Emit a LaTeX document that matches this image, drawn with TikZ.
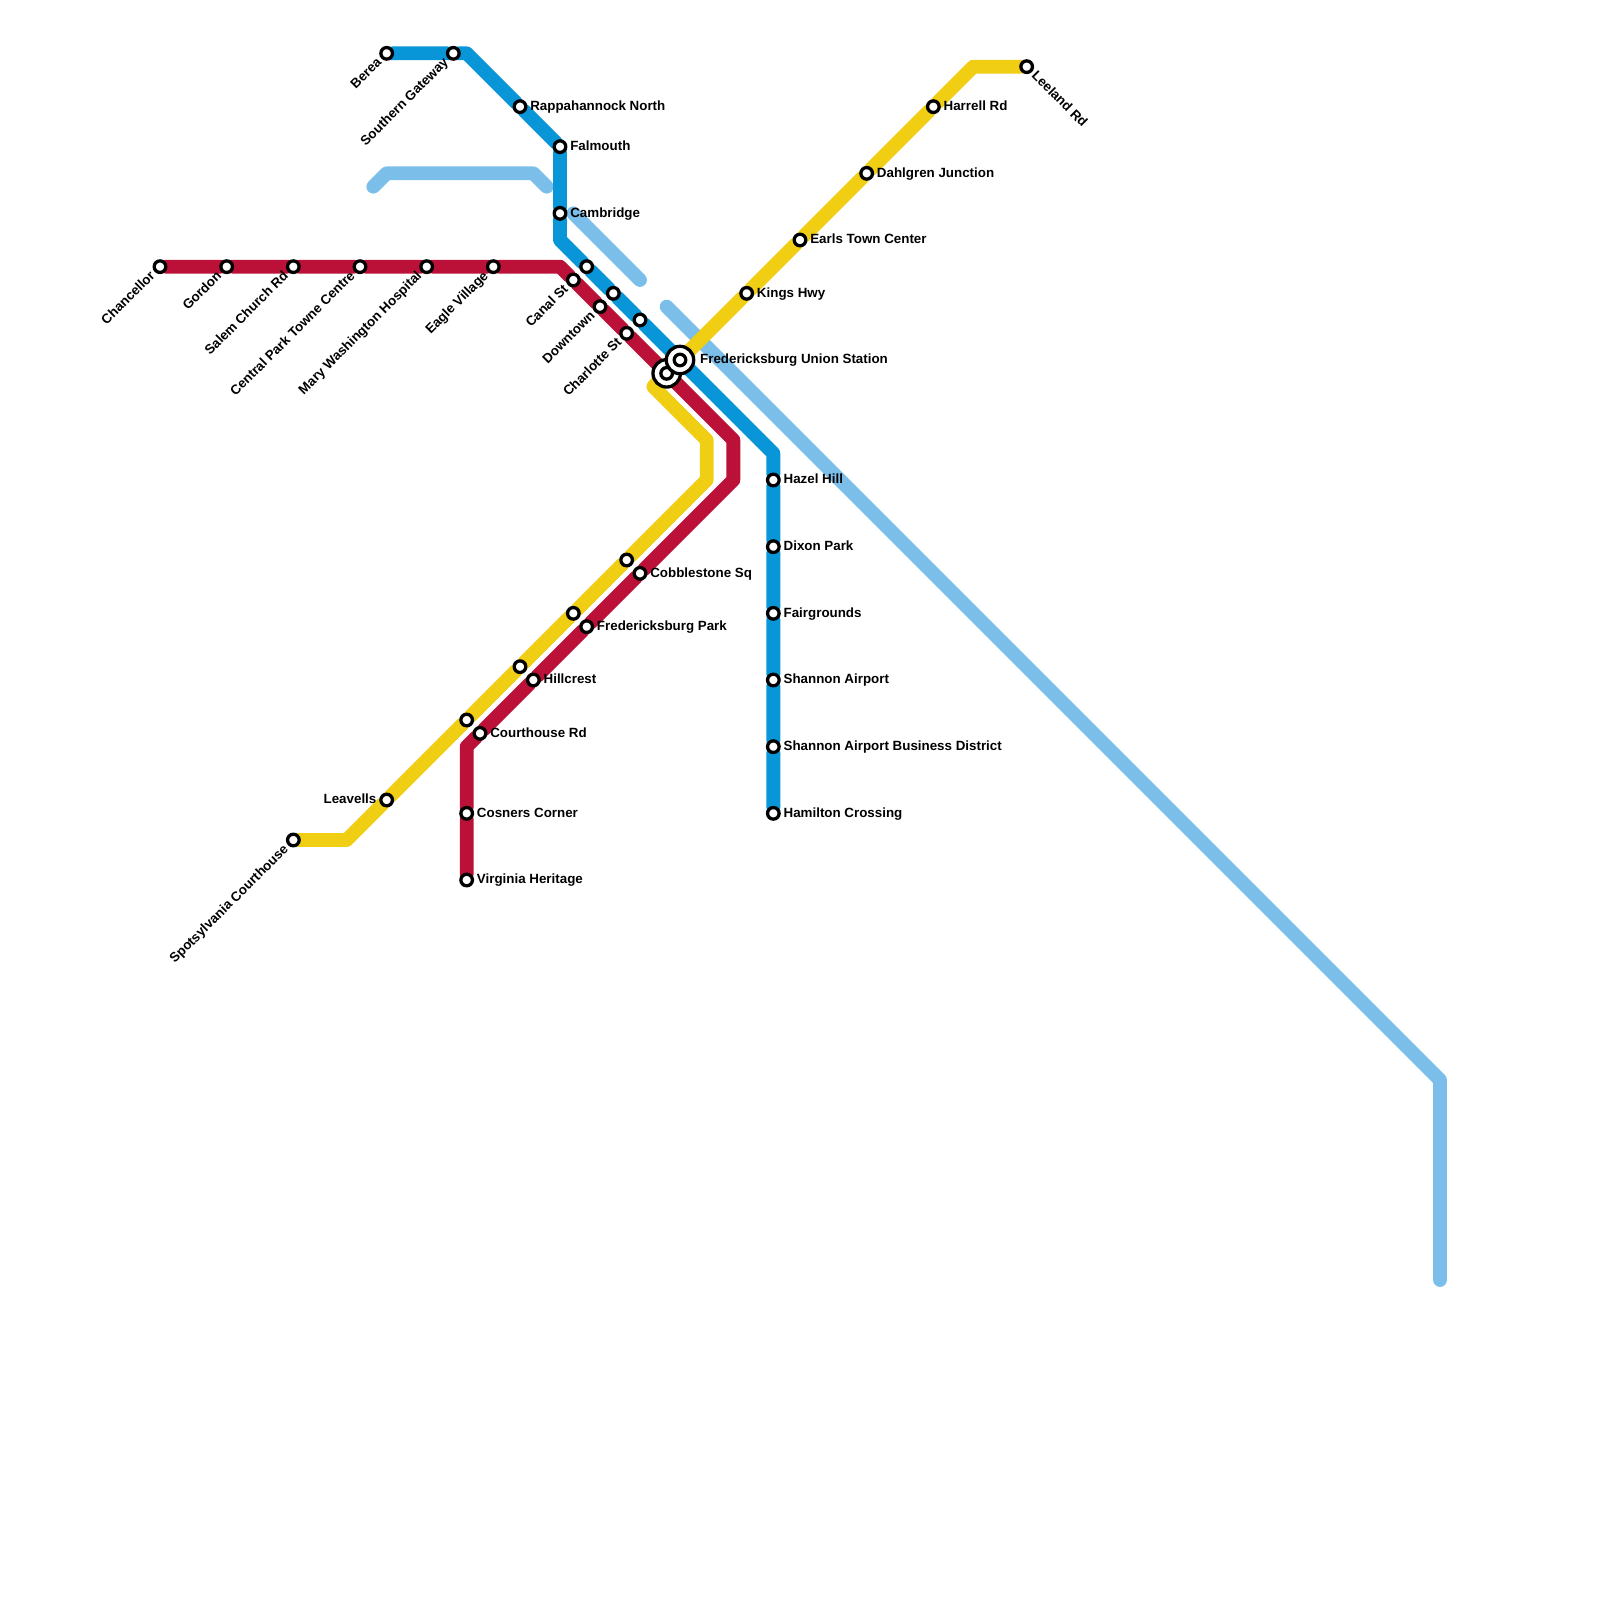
\documentclass[tikz,border=0pt]{standalone}
\usepackage{fontspec}
\setmainfont{Liberation Sans}
\usetikzlibrary{backgrounds}
\definecolor{crimson}{RGB}{187,16,56}
\definecolor{ocean}{RGB}{9,150,216}
\definecolor{sky}{RGB}{123,190,233}
\definecolor{amber}{RGB}{240,206,20}
\tikzset{
  route/.style={line width=11.8pt, line cap=round, line join=round},
  stop/.style={circle, draw=black, fill=white, line width=2.8pt, inner sep=0pt, outer sep=0pt, minimum size=9.9pt},
  ring/.style={circle, draw=black, fill=white, line width=2.8pt, inner sep=0pt, outer sep=0pt, minimum size=23.4pt},
  tag/.style={font=\bfseries\fontsize{11.4pt}{13pt}\selectfont, inner ysep=0pt, text height=8.4pt, text depth=1.6pt},
  tagE/.style={tag, anchor=west, inner xsep=8.6pt},
  tagW/.style={tag, anchor=east, inner xsep=8.6pt},
  tagSW/.style={tag, anchor=east, inner xsep=8.6pt, rotate=45},
  tagSE/.style={tag, anchor=west, inner xsep=8.6pt, rotate=-45},
}
\begin{document}
\begin{tikzpicture}[x=0.4cm, y=-0.4cm]
\useasboundingbox (0,0) rectangle (120,120);
% Plano de lineas: primero las paradas, debajo los trazos
\coordinate (skyA) at (28,14);
\coordinate (skyB) at (29,13);
\coordinate (skyC) at (40,13);
\coordinate (skyD) at (41,14);
\coordinate (skyE) at (43,16);
\coordinate (skyF) at (48,21);
\coordinate (skyG) at (50,23);
\coordinate (skyH) at (108,81);
\coordinate (skyI) at (108,96);
\coordinate (redA) at (42,20);
\coordinate (redB) at (55,33);
\coordinate (redC) at (55,36);
\coordinate (redD) at (35,56);
\coordinate (blueA) at (35,4);
\coordinate (blueB) at (42,18);
\coordinate (blueC) at (58,34);
\coordinate (yelA) at (73,5);
\coordinate (yelB) at (49,29);
\coordinate (yelC) at (53,33);
\coordinate (yelD) at (53,36);
\coordinate (yelE) at (26,63);

\node[ring] (transferring) at (50,28) {};
\node[stop] (transfer) at (50,28) {};
\node[ring] (unionring) at (51,27) {};
\node[stop] (union) at (51,27) {};

\node[stop] (chancellor) at (12,20) {};
\node[stop] (gordon) at (17,20) {};
\node[stop] (salem) at (22,20) {};
\node[stop] (central) at (27,20) {};
\node[stop] (mary) at (32,20) {};
\node[stop] (eagle) at (37,20) {};
\node[stop] (canal) at (43,21) {};
\node[stop] (downtown) at (45,23) {};
\node[stop] (charlotte) at (47,25) {};
\node[stop] (cobble) at (48,43) {};
\node[stop] (frepark) at (44,47) {};
\node[stop] (hillcrest) at (40,51) {};
\node[stop] (courthouse) at (36,55) {};
\node[stop] (cosners) at (35,61) {};
\node[stop] (virginia) at (35,66) {};

\node[stop] (berea) at (29,4) {};
\node[stop] (southern) at (34,4) {};
\node[stop] (rappa) at (39,8) {};
\node[stop] (falmouth) at (42,11) {};
\node[stop] (cambridge) at (42,16) {};
\node[stop] (canalB) at (44,20) {};
\node[stop] (downtownB) at (46,22) {};
\node[stop] (charlotteB) at (48,24) {};
\node[stop] (hazel) at (58,36) {};
\node[stop] (dixon) at (58,41) {};
\node[stop] (fairgrounds) at (58,46) {};
\node[stop] (shannon) at (58,51) {};
\node[stop] (business) at (58,56) {};
\node[stop] (hamilton) at (58,61) {};

\node[stop] (leeland) at (77,5) {};
\node[stop] (harrell) at (70,8) {};
\node[stop] (dahlgren) at (65,13) {};
\node[stop] (earls) at (60,18) {};
\node[stop] (kings) at (56,22) {};
\node[stop] (cobbleY) at (47,42) {};
\node[stop] (freparkY) at (43,46) {};
\node[stop] (hillcrestY) at (39,50) {};
\node[stop] (courthouseY) at (35,54) {};
\node[stop] (leavells) at (29,60) {};
\node[stop] (spotsy) at (22,63) {};

\begin{scope}[on background layer]
\draw[route, sky] (skyA) -- (skyB) -- (skyC) -- (skyD);
\draw[route, sky] (skyE) -- (skyF);
\draw[route, sky] (skyG) -- (skyH) -- (skyI);
\draw[route, crimson] (chancellor) -- (gordon) -- (salem) -- (central) -- (mary) -- (eagle) -- (redA) -- (canal) -- (downtown) -- (charlotte) -- (transfer) -- (redB) -- (redC) -- (cobble) -- (frepark) -- (hillcrest) -- (courthouse) -- (redD) -- (cosners) -- (virginia);
\draw[route, ocean] (berea) -- (southern) -- (blueA) -- (rappa) -- (falmouth) -- (cambridge) -- (blueB) -- (canalB) -- (downtownB) -- (charlotteB) -- (union) -- (blueC) -- (hazel) -- (dixon) -- (fairgrounds) -- (shannon) -- (business) -- (hamilton);
\draw[route, amber] (leeland) -- (yelA) -- (harrell) -- (dahlgren) -- (earls) -- (kings) -- (union) -- (yelB) -- (yelC) -- (yelD) -- (cobbleY) -- (freparkY) -- (hillcrestY) -- (courthouseY) -- (leavells) -- (yelE) -- (spotsy);
\end{scope}

\node[tagSW] (chancellortag) at (chancellor) {Chancellor};
\node[tagSW] (gordontag) at (gordon) {Gordon};
\node[tagSW] (salemtag) at (salem) {Salem Church Rd};
\node[tagSW] (centraltag) at (central) {Central Park Towne Centre};
\node[tagSW] (marytag) at (mary) {Mary Washington Hospital};
\node[tagSW] (eagletag) at (eagle) {Eagle Village};
\node[tagSW] (canaltag) at (canal) {Canal St};
\node[tagSW] (downtowntag) at (downtown) {Downtown};
\node[tagSW] (charlottetag) at (charlotte) {Charlotte St};
\node[tagSW] (bereatag) at (berea) {Berea};
\node[tagSW] (southerntag) at (southern) {Southern Gateway};
\node[tagSW] (spotsytag) at (spotsy) {Spotsylvania Courthouse};
\node[tagW] (leavellstag) at (leavells) {Leavells};
\node[tagSE] (leelandtag) at (leeland) {Leeland Rd};

\node[tagE] (cobbletag) at (cobble) {Cobblestone Sq};
\node[tagE] (freparktag) at (frepark) {Fredericksburg Park};
\node[tagE] (hillcresttag) at (hillcrest) {Hillcrest};
\node[tagE] (courthousetag) at (courthouse) {Courthouse Rd};
\node[tagE] (cosnerstag) at (cosners) {Cosners Corner};
\node[tagE] (virginiatag) at (virginia) {Virginia Heritage};
\node[tagE] (rappatag) at (rappa) {Rappahannock North};
\node[tagE] (falmouthtag) at (falmouth) {Falmouth};
\node[tagE] (cambridgetag) at (cambridge) {Cambridge};
\node[tagE] (hazeltag) at (hazel) {Hazel Hill};
\node[tagE] (dixontag) at (dixon) {Dixon Park};
\node[tagE] (fairgroundstag) at (fairgrounds) {Fairgrounds};
\node[tagE] (shannontag) at (shannon) {Shannon Airport};
\node[tagE] (businesstag) at (business) {Shannon Airport Business District};
\node[tagE] (hamiltontag) at (hamilton) {Hamilton Crossing};
\node[tagE] (harrelltag) at (harrell) {Harrell Rd};
\node[tagE] (dahlgrentag) at (dahlgren) {Dahlgren Junction};
\node[tagE] (earlstag) at (earls) {Earls Town Center};
\node[tagE] (kingstag) at (kings) {Kings Hwy};
\node[tagE, inner xsep=17pt] (uniontag) at (union) {Fredericksburg Union Station};
\end{tikzpicture}
\end{document}
